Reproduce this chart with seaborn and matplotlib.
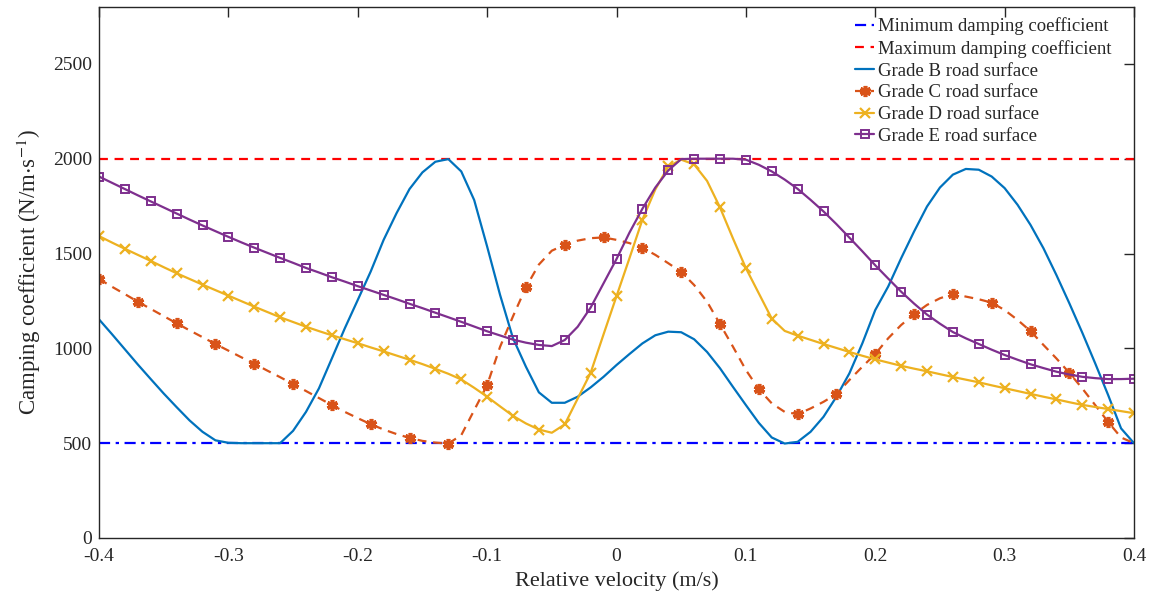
import numpy as np
import pandas as pd
import matplotlib
matplotlib.use("Agg")
import matplotlib.pyplot as plt
import seaborn as sns

# Relative velocity grid (m/s)
velocity = [round(-0.40 + 0.01 * i, 2) for i in range(81)]

# Damping limits (N/m·s^-1)
c_min = 500
c_max = 2000

# Damping coefficient for each road grade
grade_b = [1153, 1075, 995, 915, 838, 762, 690, 620, 560, 515,
           502, 500, 500, 500, 500, 565, 665, 789, 947, 1106,
           1255, 1405, 1572, 1713, 1840, 1928, 1984, 1998, 1933, 1782,
           1537, 1282, 1053, 903, 768, 713, 713, 745, 794, 850,
           912, 970, 1026, 1069, 1088, 1085, 1048, 981, 895, 797,
           701, 607, 530, 498, 507, 560, 639, 745, 868, 1026,
           1202, 1326, 1475, 1616, 1748, 1848, 1916, 1946, 1942, 1906,
           1845, 1757, 1651, 1528, 1387, 1238, 1083, 921, 754, 578,
           500]

grade_c = [1366, 1325, 1286, 1246, 1208, 1170, 1132, 1095, 1059, 1023,
           988, 953, 919, 883, 848, 812, 775, 738, 701, 665,
           632, 600, 572, 548, 528, 512, 503, 498, 542, 674,
           806, 1008, 1169, 1322, 1442, 1515, 1546, 1568, 1581, 1585,
           1572, 1555, 1531, 1493, 1449, 1403, 1334, 1246, 1128, 1009,
           886, 785, 710, 665, 653, 683, 718, 759, 833, 903,
           970, 1053, 1123, 1180, 1229, 1264, 1287, 1273, 1259, 1241,
           1202, 1150, 1091, 1018, 947, 871, 789, 701, 612, 530,
           500]

grade_d = [1592, 1558, 1525, 1493, 1461, 1428, 1396, 1366, 1336, 1307,
           1278, 1249, 1220, 1192, 1164, 1139, 1114, 1091, 1069, 1048,
           1027, 1005, 984, 962, 940, 917, 892, 866, 836, 792,
           745, 694, 644, 604, 572, 555, 599, 735, 871, 1074,
           1275, 1475, 1678, 1838, 1959, 1995, 1970, 1883, 1743, 1580,
           1423, 1290, 1157, 1092, 1067, 1045, 1023, 1002, 981, 961,
           942, 925, 908, 893, 879, 864, 849, 835, 821, 805,
           790, 775, 760, 745, 731, 716, 702, 691, 680, 669,
           658]

grade_e = [1906, 1873, 1840, 1807, 1775, 1743, 1711, 1679, 1648, 1618,
           1588, 1559, 1531, 1504, 1477, 1451, 1424, 1400, 1375, 1352,
           1328, 1305, 1282, 1259, 1235, 1212, 1188, 1164, 1140, 1115,
           1090, 1068, 1046, 1030, 1018, 1012, 1044, 1114, 1215, 1343,
           1471, 1610, 1736, 1848, 1938, 1998, 2000, 2000, 2000, 2000,
           1995, 1968, 1933, 1890, 1841, 1783, 1722, 1655, 1584, 1512,
           1438, 1368, 1299, 1236, 1178, 1130, 1086, 1053, 1023, 993,
           965, 940, 916, 896, 877, 862, 850, 843, 838, 838,
           840]

x_ticks = [-0.4, -0.3, -0.2, -0.1, 0, 0.1, 0.2, 0.3, 0.4]
x_tick_labels = ["-0.4", "-0.3", "-0.2", "-0.1", "0", "0.1", "0.2", "0.3", "0.4"]
y_ticks = [0, 500, 1000, 1500, 2000, 2500]

df = pd.DataFrame({
    "v": velocity,
    "B": grade_b,
    "C": grade_c,
    "D": grade_d,
    "E": grade_e,
})
limits = pd.DataFrame({"v": [velocity[0], velocity[-1]],
                       "lo": [c_min, c_min], "hi": [c_max, c_max]})

sns.set_theme(style="white")
plt.rcParams["font.family"] = ["Liberation Serif", "DejaVu Serif"]
plt.rcParams["mathtext.fontset"] = "stix"

fig = plt.figure(figsize=(11.53, 5.95), dpi=100)
ax = fig.add_axes([99 / 1153, 1 - 538 / 595, (1134 - 99) / 1153, (538 - 7) / 595])

lw = 1.6
sns.lineplot(data=limits, x="v", y="lo", ax=ax, color=(0, 0, 1), lw=lw,
             linestyle=(0, (5, 2.5, 1.5, 2.5)), label="Minimum damping coefficient")
sns.lineplot(data=limits, x="v", y="hi", ax=ax, color=(1, 0, 0), lw=lw,
             linestyle=(0, (4, 3)), label="Maximum damping coefficient")
sns.lineplot(data=df, x="v", y="B", ax=ax, color="#0072BD", lw=lw,
             label="Grade B road surface")
sns.lineplot(data=df, x="v", y="C", ax=ax, color="#D95319", lw=lw,
             linestyle=(0, (4, 3)), marker=(6, 2, 0), markersize=8,
             markeredgewidth=2.6, markeredgecolor="#D95319",
             markevery=3, label="Grade C road surface")
sns.lineplot(data=df, x="v", y="D", ax=ax, color="#EDB120", lw=lw,
             marker="x", markersize=6.5, markeredgewidth=1.6,
             markeredgecolor="#EDB120", markevery=2,
             label="Grade D road surface")
sns.lineplot(data=df, x="v", y="E", ax=ax, color="#7E2F8E", lw=lw,
             marker="s", markersize=6, markerfacecolor="none",
             markeredgewidth=1.4, markeredgecolor="#7E2F8E", markevery=2,
             label="Grade E road surface")

ax.set_xlim(-0.4, 0.4)
ax.set_ylim(0, 2800)
ax.set_xticks(x_ticks)
ax.set_xticklabels(x_tick_labels)
ax.set_yticks(y_ticks)
ax.tick_params(direction="in", length=7, width=1, top=True, right=True,
               labelsize=14, colors="#262626")
ax.tick_params(axis="x", pad=7)
ax.tick_params(axis="y", pad=5)
for s in ax.spines.values():
    s.set_color("#262626")
    s.set_linewidth(1.0)

ax.set_xlabel("Relative velocity (m/s)", fontsize=16, labelpad=5)
ax.set_ylabel(r"Camping coefficient (N/m$\cdot$s$^{-1}$)", fontsize=16.5, labelpad=7)

leg = ax.legend(loc="upper right", bbox_to_anchor=(0.988, 1.0), frameon=False,
                fontsize=13.5, handlelength=1.0, handletextpad=0.2,
                labelspacing=0.25, borderaxespad=0.15)

fig.savefig("out.png", dpi=100)
